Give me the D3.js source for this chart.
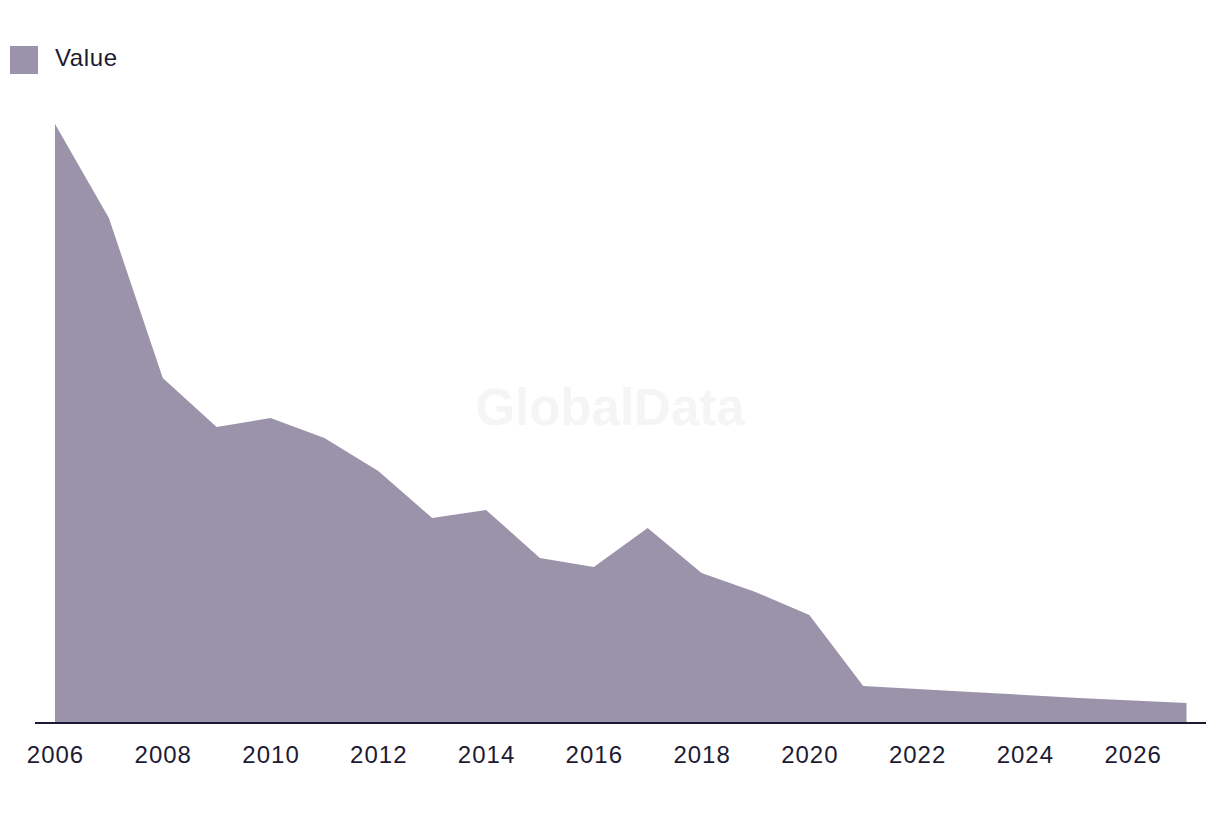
<!DOCTYPE html>
<html>
<head>
<meta charset="utf-8">
<style>
  body { margin: 0; background: #fff; }
  svg { display: block; font-family: "Liberation Sans", Arial, sans-serif; }
</style>
</head>
<body>
<div id="container"></div>
<script src="https://cdn.jsdelivr.net/npm/d3@7"></script>
<script>
// data (no y axis shown, so units are relative)
const years  = [2006, 2007, 2008, 2009, 2010, 2011, 2012, 2013, 2014, 2015, 2016,
                2017, 2018, 2019, 2020, 2021, 2022, 2023, 2024, 2025, 2026, 2027];
const values = [599, 505, 345, 296, 305, 285, 252, 205, 213, 165, 156,
                195, 150, 131, 108, 37, 34, 31, 28, 25, 22.5, 20];
const tickYears = [2006, 2008, 2010, 2012, 2014, 2016, 2018, 2020, 2022, 2024, 2026];
const seriesName = 'Value';

const width = 1220, height = 814;
const fill = '#9b93aa';
const ink = '#1d1b33';

const data = years.map((y, i) => ({ year: y, value: values[i] }));

const x = d3.scaleLinear().domain([2006, 2027]).range([55, 1186.5]);
const y = d3.scaleLinear().domain([0, d3.max(values)]).range([723, 124]);

const svg = d3.select('#container').append('svg')
    .attr('width', width)
    .attr('height', height);

// watermark
svg.append('text')
    .attr('x', 610).attr('y', 425)
    .attr('text-anchor', 'middle')
    .attr('font-size', 51)
    .attr('font-weight', 'bold')
    .attr('fill', '#f5f5f5')
    .text('GlobalData');

// area
const area = d3.area()
    .x(d => x(d.year))
    .y0(y(0))
    .y1(d => y(d.value));

svg.append('path')
    .datum(data)
    .attr('d', area)
    .attr('fill', fill);

// x axis: baseline and labels, no tick marks
const xAxis = d3.axisBottom(x)
    .tickValues(tickYears)
    .tickFormat(d3.format('d'))
    .tickSize(0)
    .tickPadding(23);

const gx = svg.append('g')
    .attr('transform', `translate(0, ${y(0)})`)
    .call(xAxis);

gx.select('.domain').remove();
gx.append('line')
    .attr('x1', 35).attr('x2', 1206)
    .attr('stroke', ink)
    .attr('stroke-width', 2);

gx.selectAll('.tick text')
    .attr('font-size', 24)
    .attr('font-family', '"Liberation Sans", Arial, sans-serif')
    .attr('letter-spacing', 1)
    .attr('fill', ink);

// legend
const legend = svg.append('g');
legend.append('rect')
    .attr('x', 10).attr('y', 46)
    .attr('width', 28).attr('height', 28)
    .attr('fill', fill);
legend.append('text')
    .attr('x', 55).attr('y', 66)
    .attr('font-size', 24)
    .attr('letter-spacing', 0.6)
    .attr('fill', ink)
    .text(seriesName);
</script>
</body>
</html>
